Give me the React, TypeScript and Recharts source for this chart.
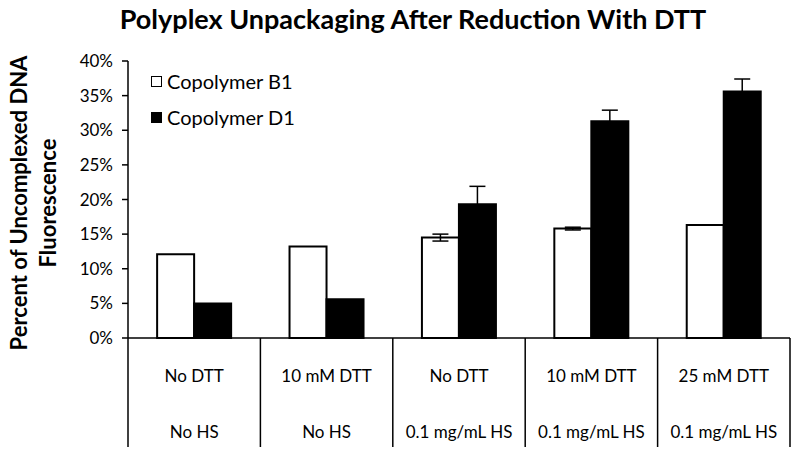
import { BarChart, Bar, XAxis, YAxis, ErrorBar } from 'recharts';

const groupsTop = ['No DTT', '10 mM DTT', 'No DTT', '10 mM DTT', '25 mM DTT'];
const groupsBottom = ['No HS', 'No HS', '0.1 mg/mL HS', '0.1 mg/mL HS', '0.1 mg/mL HS'];
const b1Values = [12.1, 13.2, 14.5, 15.8, 16.3];
const b1Errors = [0, 0, 0.5, 0.2, 0];
const d1Values = [5.0, 5.6, 19.3, 31.3, 35.6];
const d1Errors = [0, 0, 2.6, 1.6, 1.8];
const yTicks = [0, 5, 10, 15, 20, 25, 30, 35, 40];
const seriesNames = ['Copolymer B1', 'Copolymer D1'];

const data = groupsTop.map((top, i) => ({
  key: String(i),
  top,
  bottom: groupsBottom[i],
  b1: b1Values[i],
  b1Err: b1Errors[i],
  d1: d1Values[i],
  d1Err: d1Errors[i],
}));

const FONT = 'Lato, "Open Sans", sans-serif';

function CategoryTick(props: any) {
  const { x, y, payload } = props;
  const row = data[payload.index] ?? data[Number(payload.value)];
  const half = payload.offset || 66;
  const isLast = payload.index === data.length - 1;
  return (
    <g>
      <line x1={x - half} x2={x - half} y1={y - 8} y2={y + 101} stroke="#000" strokeWidth={1.5} />
      {isLast && <line x1={x + half} x2={x + half} y1={y - 8} y2={y + 101} stroke="#000" strokeWidth={1.5} />}
      <text x={x} y={y + 32} textAnchor="middle" dominantBaseline="middle" fontSize={17} fill="#000" fontFamily={FONT}>
        {row.top}
      </text>
      <text x={x} y={y + 88} textAnchor="middle" dominantBaseline="middle" fontSize={17} fill="#000" fontFamily={FONT}>
        {row.bottom}
      </text>
    </g>
  );
}

export default function App() {
  const fills = ['#fff', '#000'];
  return (
    <div style={{ position: 'absolute', left: 0, top: 0, width: 800, height: 458, background: '#fff' }}>
      <div
        style={{
          position: 'absolute',
          left: 0,
          top: 2,
          width: 826,
          textAlign: 'center',
          fontFamily: FONT,
          fontWeight: 700,
          fontSize: 27,
          color: '#000',
        }}
      >
        Polyplex Unpackaging After Reduction With DTT
      </div>
      <div style={{ position: 'absolute', left: 33, top: 203, width: 0, height: 0 }}>
        <div
          style={{
            position: 'absolute',
            transform: 'translate(-50%, -50%) rotate(-90deg)',
            whiteSpace: 'nowrap',
            textAlign: 'center',
            fontFamily: FONT,
            fontWeight: 700,
            fontSize: 22,
            lineHeight: '29px',
            color: '#000',
          }}
        >
          Percent of Uncomplexed DNA
          <br />
          Fluorescence
        </div>
      </div>
      <BarChart
        width={800}
        height={458}
        data={data}
        margin={{ top: 61, right: 10, left: 68, bottom: 10 }}
        barCategoryGap="22%"
        barGap={0}
      >
        <XAxis
          dataKey="key"
          height={110}
          interval={0}
          tick={<CategoryTick />}
          tickLine={false}
          axisLine={{ stroke: '#000', strokeWidth: 1.5 }}
        />
        <YAxis
          width={60}
          domain={[0, 40]}
          ticks={yTicks}
          interval={0}
          tickFormatter={(v) => `${v}%`}
          tick={{ fontSize: 17, fill: '#000', fontFamily: FONT }}
          tickSize={6}
          tickMargin={9}
          tickLine={{ stroke: '#000', strokeWidth: 1.5 }}
          axisLine={{ stroke: '#000', strokeWidth: 1.5 }}
        />
        <Bar dataKey="b1" name={seriesNames[0]} fill="#fff" stroke="#000" strokeWidth={2} isAnimationActive={false}>
          <ErrorBar dataKey="b1Err" width={8} stroke="#000" strokeWidth={1.5} />
        </Bar>
        <Bar dataKey="d1" name={seriesNames[1]} fill="#000" stroke="#000" strokeWidth={2} isAnimationActive={false}>
          <ErrorBar dataKey="d1Err" width={8} stroke="#000" strokeWidth={1.5} />
        </Bar>
      </BarChart>
      <div style={{ position: 'absolute', left: 151, top: 63, fontFamily: FONT, fontSize: 20, color: '#000' }}>
        {seriesNames.map((name, i) => (
          <div key={name} style={{ display: 'flex', alignItems: 'center', height: 36 }}>
            <span
              style={{
                display: 'inline-block',
                width: 9,
                height: 9,
                border: '1.5px solid #000',
                background: fills[i],
                marginRight: 5,
              }}
            />
            {name}
          </div>
        ))}
      </div>
    </div>
  );
}
